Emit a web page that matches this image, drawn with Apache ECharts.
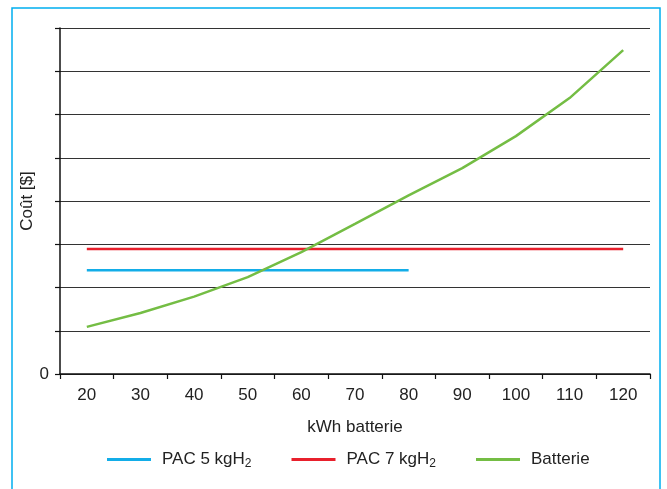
<!DOCTYPE html>
<html>
<head>
<meta charset="utf-8">
<script src="https://cdn.jsdelivr.net/npm/echarts@6/dist/echarts.min.js"></script>
<style>html,body{margin:0;padding:0;background:#fff}#c{width:667px;height:489px}</style>
</head>
<body>
<div id="c"></div>
<script>
const categories = ['20','30','40','50','60','70','80','90','100','110','120'];
const pac5 = [2.40, 2.40, 2.40, 2.40, 2.40, 2.40, 2.40, null, null, null, null];
const pac7 = [2.89, 2.89, 2.89, 2.89, 2.89, 2.89, 2.89, 2.89, 2.89, 2.89, 2.89];
const batterie = [1.09, 1.41, 1.79, 2.24, 2.82, 3.47, 4.13, 4.76, 5.50, 6.38, 7.49];
const seriesNames = ['PAC 5 kgH2', 'PAC 7 kgH2', 'Batterie'];

const font = 'Liberation Sans, Arial, sans-serif';
const chart = echarts.init(document.getElementById('c'), null, {renderer: 'canvas'});
chart.setOption({
  animation: false,
  backgroundColor: '#fff',
  graphic: [{
    type: 'rect', silent: true,
    shape: {x: 12, y: 8, width: 648, height: 495},
    style: {fill: 'none', stroke: '#00aeef', lineWidth: 1.5}
  }],
  grid: {left: 60, right: 17, top: 28, bottom: 115},
  legend: {
    top: 451, left: 107, padding: 0,
    itemWidth: 44, itemHeight: 3, itemGap: 40,
    icon: 'rect',
    data: seriesNames,
    formatter: function (n) { return n.replace(/H2$/, 'H{sub|2}'); },
    textStyle: {
      fontFamily: font, fontSize: 17, color: '#222', padding: [0, 0, 0, 6],
      rich: {sub: {fontFamily: font, fontSize: 12, color: '#222', verticalAlign: 'bottom', padding: [9, 0, 0, 0]}}
    }
  },
  xAxis: {
    type: 'category', data: categories, boundaryGap: true,
    name: 'kWh batterie', nameLocation: 'middle', nameGap: 45,
    nameTextStyle: {fontFamily: font, fontSize: 17, color: '#222'},
    axisLine: {lineStyle: {color: '#111', width: 1.5}},
    axisTick: {show: true, length: 5, inside: false, lineStyle: {color: '#111', width: 1.2}},
    axisLabel: {fontFamily: font, fontSize: 17, color: '#222', margin: 13}
  },
  yAxis: {
    type: 'value', min: 0, max: 8, interval: 1,
    name: 'Coût [$]', nameLocation: 'middle', nameGap: 24, nameMoveOverlap: false,
    nameTextStyle: {fontFamily: font, fontSize: 17, color: '#222'},
    axisLine: {show: true, lineStyle: {color: '#111', width: 1.5}},
    axisTick: {show: true, length: 5, lineStyle: {color: '#111', width: 1.2}},
    axisLabel: {fontFamily: font, fontSize: 17, color: '#222', margin: 11,
      formatter: function (v) { return v === 0 ? '0' : ''; }},
    splitLine: {show: true, lineStyle: {color: '#333', width: 1}}
  },
  series: [
    {name: seriesNames[0], type: 'line', data: pac5, symbol: 'none', color: '#13ade8', lineStyle: {width: 2.5}},
    {name: seriesNames[1], type: 'line', data: pac7, symbol: 'none', color: '#e8202c', lineStyle: {width: 2.5}},
    {name: seriesNames[2], type: 'line', data: batterie, symbol: 'none', color: '#74bd44', lineStyle: {width: 2.5}}
  ]
});
</script>
</body>
</html>
